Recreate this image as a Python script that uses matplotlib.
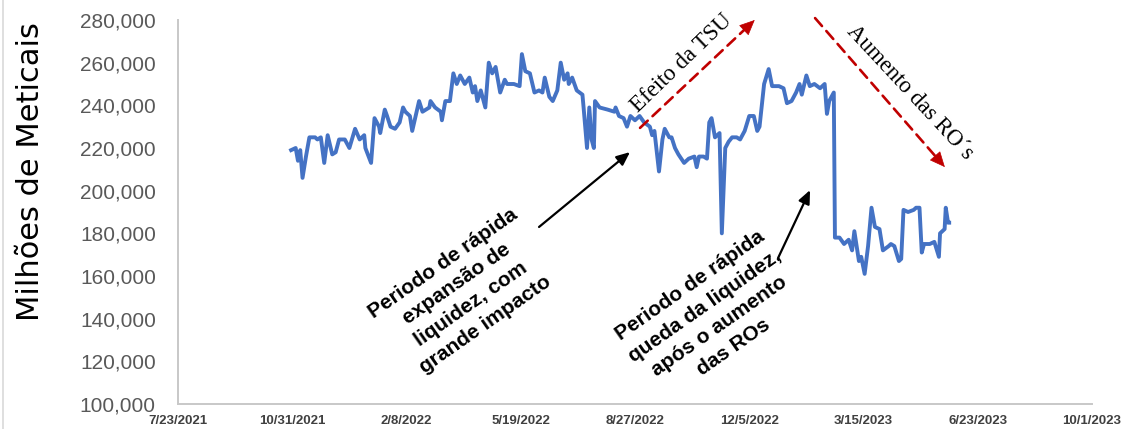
import numpy as np
import pandas as pd
import matplotlib
matplotlib.use('Agg')
import matplotlib.pyplot as plt
from matplotlib.ticker import FuncFormatter
from matplotlib.lines import Line2D

# Liquidez (milhões de meticais)
datas = [
    "2021-10-30", "2021-11-03", "2021-11-05", "2021-11-07", "2021-11-09", "2021-11-12",
    "2021-11-15", "2021-11-20", "2021-11-22", "2021-11-25", "2021-11-28", "2021-12-01",
    "2021-12-05", "2021-12-08", "2021-12-11", "2021-12-16", "2021-12-20", "2021-12-25",
    "2021-12-29", "2022-01-02", "2022-01-03", "2022-01-08", "2022-01-11", "2022-01-15",
    "2022-01-16", "2022-01-20", "2022-01-22", "2022-01-25", "2022-01-29", "2022-02-02",
    "2022-02-05", "2022-02-07", "2022-02-11", "2022-02-13", "2022-02-16", "2022-02-19",
    "2022-02-22", "2022-02-28", "2022-03-01", "2022-03-05", "2022-03-10", "2022-03-11",
    "2022-03-14", "2022-03-18", "2022-03-21", "2022-03-24", "2022-03-27", "2022-03-31",
    "2022-04-04", "2022-04-07", "2022-04-09", "2022-04-11", "2022-04-14", "2022-04-15",
    "2022-04-18", "2022-04-21", "2022-04-24", "2022-04-27", "2022-05-01", "2022-05-05",
    "2022-05-07", "2022-05-13", "2022-05-18", "2022-05-20", "2022-05-23", "2022-05-27",
    "2022-05-31", "2022-06-04", "2022-06-07", "2022-06-09", "2022-06-13", "2022-06-16",
    "2022-06-20", "2022-06-23", "2022-06-26", "2022-06-29", "2022-06-30", "2022-07-03",
    "2022-07-07", "2022-07-12", "2022-07-13", "2022-07-16", "2022-07-18", "2022-07-20",
    "2022-07-22", "2022-07-23", "2022-07-27", "2022-08-03", "2022-08-09", "2022-08-10",
    "2022-08-13", "2022-08-17", "2022-08-20", "2022-08-23", "2022-08-27", "2022-08-31",
    "2022-09-04", "2022-09-09", "2022-09-11", "2022-09-13", "2022-09-17", "2022-09-20",
    "2022-09-22", "2022-09-26", "2022-09-28", "2022-10-01", "2022-10-04", "2022-10-09",
    "2022-10-13", "2022-10-18", "2022-10-20", "2022-10-22", "2022-10-26", "2022-10-29",
    "2022-10-31", "2022-11-02", "2022-11-05", "2022-11-09", "2022-11-11", "2022-11-14",
    "2022-11-17", "2022-11-20", "2022-11-24", "2022-11-27", "2022-11-30", "2022-12-01",
    "2022-12-05", "2022-12-09", "2022-12-12", "2022-12-14", "2022-12-18", "2022-12-22",
    "2022-12-25", "2022-12-31", "2023-01-04", "2023-01-07", "2023-01-11", "2023-01-15",
    "2023-01-18", "2023-01-20", "2023-01-24", "2023-01-27", "2023-01-31", "2023-02-05",
    "2023-02-09", "2023-02-11", "2023-02-13", "2023-02-17", "2023-02-18", "2023-02-22",
    "2023-02-26", "2023-03-02", "2023-03-05", "2023-03-07", "2023-03-11", "2023-03-13",
    "2023-03-16", "2023-03-19", "2023-03-22", "2023-03-25", "2023-03-29", "2023-04-01",
    "2023-04-06", "2023-04-08", "2023-04-11", "2023-04-15", "2023-04-17", "2023-04-19",
    "2023-04-23", "2023-04-28", "2023-04-30", "2023-05-03", "2023-05-05", "2023-05-07",
    "2023-05-12", "2023-05-16", "2023-05-20", "2023-05-21", "2023-05-25", "2023-05-26",
    "2023-05-28", "2023-05-29",
]
liquidez = [
    219000, 220000, 214000, 219000, 206000, 216000,
    225000, 225000, 224000, 225000, 213000, 226000,
    217000, 218000, 224000, 224000, 220000, 229000,
    224000, 226000, 220000, 213000, 234000, 230000,
    227000, 238000, 235000, 230000, 229000, 232000,
    239000, 237000, 235000, 228000, 235000, 242000,
    237000, 239000, 242000, 239000, 237000, 233000,
    242000, 242000, 255000, 250000, 254000, 250000,
    253000, 246000, 249000, 242000, 247000, 245000,
    239000, 260000, 255000, 258000, 246000, 252000,
    250000, 250000, 249000, 264000, 256000, 255000,
    246000, 247000, 246000, 253000, 244000, 242000,
    247000, 260000, 252000, 255000, 250000, 253000,
    247000, 245000, 239000, 220000, 239000, 224000,
    220000, 242000, 239000, 238000, 237000, 239000,
    235000, 234000, 230000, 235000, 233000, 235000,
    232000, 230000, 226000, 228000, 209000, 224000,
    229000, 225000, 225000, 220000, 217000, 213000,
    215000, 216000, 211000, 216000, 216000, 215000,
    232000, 234000, 225000, 227000, 180000, 220000,
    223000, 225000, 225000, 224000, 227000, 228000,
    235000, 235000, 228000, 230000, 250000, 257000,
    249000, 249000, 248000, 241000, 242000, 246000,
    250000, 245000, 254000, 249000, 250000, 248000,
    250000, 236000, 242000, 246000, 178000, 178000,
    175000, 177000, 172000, 181000, 167000, 169000,
    161000, 174000, 192000, 183000, 182000, 172000,
    174000, 175000, 174000, 167000, 168000, 191000,
    190000, 191000, 192000, 192000, 171000, 175000,
    175000, 176000, 169000, 180000, 182000, 192000,
    185000, 185000,
]

inicio_eixo = "2021-07-23"
fim_eixo = "2023-10-01"
y_ticks = list(range(100000, 280001, 20000))

texto_expansao = "Periodo de rápida\nexpansão de\nliquidez, com\ngrande impacto"
texto_queda = "Periodo de rápida\nqueda da liquidez,\napós o aumento\ndas ROs"
texto_tsu = "Efeito da TSU"
texto_ros = "Aumento das RO´s"

azul = "#4472C4"
vermelho = "#C00000"

fig = plt.figure(figsize=(11.22, 4.29), dpi=100)
ax = fig.add_axes([178 / 1122, 1 - 404 / 429, (1092 - 178) / 1122, (404 - 20) / 429])

# borda fina à esquerda da área do gráfico
fig.add_artist(Line2D([2.5 / 1122, 2.5 / 1122], [0, 1], color='#D9D9D9', lw=1.2,
                      transform=fig.transFigure))

x = pd.to_datetime(datas)
ax.plot(x, liquidez, color=azul, linewidth=2.8, solid_joinstyle='round')

# eixos
ax.set_xlim(pd.Timestamp(inicio_eixo), pd.Timestamp(fim_eixo))
ax.set_ylim(100000, 280000)
x_ticks = pd.date_range(inicio_eixo, periods=9, freq='100D')
ax.set_xticks(x_ticks)
ax.set_xticklabels([f"{d.month}/{d.day}/{d.year}" for d in x_ticks],
                   family='Liberation Sans', fontweight='bold', fontsize=9.5,
                   color='#404040')
ax.set_yticks(y_ticks)
ax.yaxis.set_major_formatter(FuncFormatter(lambda v, p: f"{int(v):,}"))
for lab in ax.get_yticklabels():
    lab.set_family('Liberation Sans')
    lab.set_fontsize(15)
    lab.set_color('#595959')
ax.tick_params(axis='x', length=0, pad=8)
ax.tick_params(axis='y', length=0, pad=16)

for s in ['top', 'right']:
    ax.spines[s].set_visible(False)
for s in ['left', 'bottom']:
    ax.spines[s].set_color('#C8C8C8')
    ax.spines[s].set_linewidth(1.4)

fig.text(31 / 1122, 1 - 172 / 429, "Milhões de Meticais", rotation=90,
         ha='center', va='center', fontsize=22, family='DejaVu Sans', color='black')

# anotações pretas
ax.annotate('', xy=(0.4945, 0.656), xytext=(0.395, 0.461), xycoords='axes fraction',
            arrowprops=dict(arrowstyle='-|>,head_length=0.8,head_width=0.35',
                            color='black', lw=1.6, shrinkA=0, shrinkB=0))
ax.annotate('', xy=(0.6915, 0.557), xytext=(0.6565, 0.380), xycoords='axes fraction',
            arrowprops=dict(arrowstyle='-|>,head_length=0.8,head_width=0.35',
                            color='black', lw=1.6, shrinkA=0, shrinkB=0))
ax.text(0.313, 0.287, texto_expansao, transform=ax.transAxes, rotation=35,
        rotation_mode='anchor', ha='center', va='center', multialignment='center',
        fontsize=15, fontweight='bold', family='Liberation Sans', linespacing=1.4)
ax.text(0.584, 0.228, texto_queda, transform=ax.transAxes, rotation=35,
        rotation_mode='anchor', ha='center', va='center', multialignment='center',
        fontsize=15, fontweight='bold', family='Liberation Sans', linespacing=1.4)

# setas vermelhas tracejadas
def seta_tracejada(inicio, fim):
    ax.annotate('', xy=fim, xytext=inicio, xycoords='axes fraction',
                arrowprops=dict(arrowstyle='-', color=vermelho, lw=1.9,
                                linestyle=(0, (4, 2.5)), shrinkA=0, shrinkB=8))
    dx, dy = fim[0] - inicio[0], fim[1] - inicio[1]
    ax.annotate('', xy=fim, xytext=(fim[0] - 0.1 * dx, fim[1] - 0.1 * dy),
                xycoords='axes fraction',
                arrowprops=dict(arrowstyle='-|>,head_length=1.0,head_width=0.45',
                                color=vermelho, lw=0.5, shrinkA=0, shrinkB=0))

seta_tracejada((0.5055, 0.719), (0.631, 1.0))
seta_tracejada((0.697, 1.005), (0.839, 0.617))

ax.text(0.551, 0.888, texto_tsu, transform=ax.transAxes, rotation=44,
        rotation_mode='anchor', ha='center', va='center',
        fontsize=16.5, family='Liberation Serif')
ax.text(0.801, 0.810, texto_ros, transform=ax.transAxes, rotation=-47,
        rotation_mode='anchor', ha='center', va='center',
        fontsize=16.5, family='Liberation Serif')

for a in ax.texts + ax.patches:
    a.set_clip_on(False)

fig.savefig("out.png", dpi=100)
plt.close()
